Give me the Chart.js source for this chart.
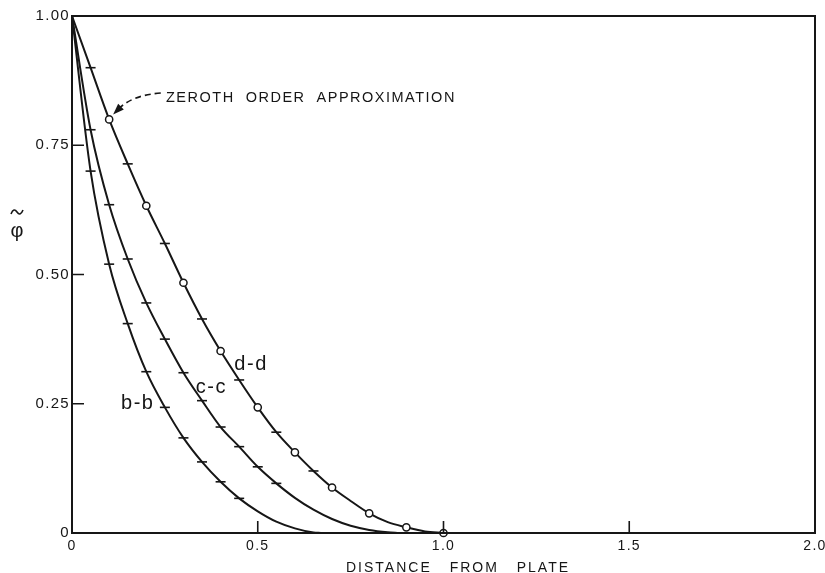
<!DOCTYPE html>
<html>
<head>
<meta charset="utf-8">
<script src="https://cdn.jsdelivr.net/npm/chart.js@4/dist/chart.umd.min.js"></script>
<style>
  html, body { margin: 0; padding: 0; background: #fff; }
  #wrap { width: 825px; height: 573px; }
</style>
</head>
<body>
<div id="wrap"><canvas id="c" width="825" height="573"></canvas></div>
<script>
// Axis ticks
const xTicks = [0, 0.5, 1.0, 1.5, 2.0];
const xTickLabels = ['0', '0.5', '1.0', '1.5', '2.0'];
const yTicks = [0, 0.25, 0.5, 0.75, 1.0];
const yTickLabels = ['0', '0.25', '0.50', '0.75', '1.00'];

// Curve b-b  (marker: 't' = cross stroke, 'o' = open circle, '' = none)
const bbX = [0, 0.05, 0.10, 0.15, 0.20, 0.25, 0.30, 0.35, 0.40, 0.45, 0.50, 0.55, 0.60, 0.65, 0.67];
const bbY = [1.0, 0.70, 0.52, 0.405, 0.312, 0.243, 0.184, 0.1375, 0.099, 0.067, 0.042, 0.022, 0.009, 0.001, 0];
const bbMark = ['', 't', 't', 't', 't', 't', 't', 't', 't', 't', '', '', '', '', ''];

// Curve c-c
const ccX = [0, 0.05, 0.10, 0.15, 0.20, 0.25, 0.30, 0.35, 0.40, 0.45, 0.50, 0.55, 0.60, 0.65, 0.70, 0.75, 0.80, 0.85, 0.88];
const ccY = [1.0, 0.78, 0.635, 0.53, 0.445, 0.375, 0.31, 0.256, 0.205, 0.167, 0.128, 0.096, 0.068, 0.045, 0.027, 0.014, 0.006, 0.0015, 0];
const ccMark = ['', 't', 't', 't', 't', 't', 't', 't', 't', 't', 't', 't', '', '', '', '', '', '', ''];

// Curve d-d (zeroth order approximation)
const ddX = [0, 0.05, 0.10, 0.15, 0.20, 0.25, 0.30, 0.35, 0.40, 0.45, 0.50, 0.55, 0.60, 0.65, 0.70, 0.75, 0.80, 0.85, 0.90, 0.95, 1.0];
const ddY = [1.0, 0.90, 0.80, 0.714, 0.633, 0.56, 0.484, 0.414, 0.352, 0.296, 0.243, 0.195, 0.156, 0.12, 0.088, 0.062, 0.038, 0.021, 0.011, 0.003, 0];
const ddMark = ['', 't', 'o', 't', 'o', 't', 'o', 't', 'o', 't', 'o', 't', 'o', 't', 'o', '', 'o', '', 'o', '', 'o'];

const INK = '#161616';
const FONT = '"Liberation Sans", Arial, sans-serif';

function curve(xs, ys, marks) {
  return {
    data: xs.map((x, i) => ({ x: x, y: ys[i] })),
    borderColor: INK,
    borderWidth: 2,
    cubicInterpolationMode: 'monotone',
    fill: false,
    clip: false,
    pointStyle: ctx => marks[ctx.dataIndex] === 'o' ? 'circle' : 'line',
    pointRadius: ctx => marks[ctx.dataIndex] === 'o' ? 3.6 : (marks[ctx.dataIndex] === 't' ? 5 : 0),
    pointBackgroundColor: '#ffffff',
    pointBorderColor: INK,
    pointBorderWidth: ctx => marks[ctx.dataIndex] === 'o' ? 1.5 : 1.6,
    pointHoverRadius: 0
  };
}

// Frame, inward tick marks, axis titles and text annotations
const decor = {
  id: 'decor',
  beforeDraw(chart) {
    chart.ctx.letterSpacing = '1.3px';
  },
  afterDatasetsDraw(chart) {
    const ctx = chart.ctx;
    const xs = chart.scales.x, ys = chart.scales.y;
    const { left, right, top, bottom } = chart.chartArea;
    ctx.save();
    ctx.strokeStyle = INK;
    ctx.lineWidth = 2;
    ctx.strokeRect(left, top, right - left, bottom - top);
    ctx.lineWidth = 1.6;
    ctx.beginPath();
    xTicks.slice(1, -1).forEach(v => {
      const px = xs.getPixelForValue(v);
      ctx.moveTo(px, bottom); ctx.lineTo(px, bottom - 12);
    });
    yTicks.slice(1, -1).forEach(v => {
      const py = ys.getPixelForValue(v);
      ctx.moveTo(left, py); ctx.lineTo(left + 12, py);
    });
    ctx.stroke();

    ctx.fillStyle = INK;

    // x axis title
    ctx.font = '14px ' + FONT;
    ctx.letterSpacing = '2px';
    ctx.wordSpacing = '12px';
    ctx.textAlign = 'left';
    ctx.textBaseline = 'alphabetic';
    ctx.fillText('DISTANCE FROM PLATE', 346, 572);
    ctx.wordSpacing = '0px';

    // y axis title: phi with a tilde above
    ctx.letterSpacing = '0px';
    ctx.textAlign = 'center';
    ctx.textBaseline = 'middle';
    ctx.font = '20px ' + FONT;
    ctx.fillText('φ', 17, 231);
    ctx.lineWidth = 1.6;
    ctx.beginPath();
    ctx.moveTo(11, 214);
    ctx.bezierCurveTo(13, 209, 15, 209, 17, 212);
    ctx.bezierCurveTo(19, 215, 21, 215, 23, 210);
    ctx.stroke();

    // curve labels
    ctx.letterSpacing = '1.5px';
    ctx.font = '20px ' + FONT;
    ctx.textAlign = 'center';
    ctx.textBaseline = 'alphabetic';
    const lab = (t, vx, vy) => ctx.fillText(t, xs.getPixelForValue(vx), ys.getPixelForValue(vy));
    lab('d-d', 0.482, 0.315);
    lab('c-c', 0.375, 0.271);
    lab('b-b', 0.177, 0.239);

    // note with dashed arrow
    ctx.font = '14.5px ' + FONT;
    ctx.letterSpacing = '1.5px';
    ctx.textAlign = 'left';
    ctx.fillText('ZEROTH  ORDER  APPROXIMATION', xs.getPixelForValue(0.253), ys.getPixelForValue(0.833));

    const sx = xs.getPixelForValue(0.239), sy = ys.getPixelForValue(0.851);
    const px = xs.getPixelForValue(ddX[2]), py = ys.getPixelForValue(ddY[2]);
    const tx = px + 4, ty = py - 5;
    const cx = sx - 28, cy = sy + 2;
    ctx.setLineDash([6, 4]);
    ctx.lineWidth = 1.6;
    ctx.beginPath();
    ctx.moveTo(sx, sy);
    ctx.quadraticCurveTo(cx, cy, tx + 6, ty - 6);
    ctx.stroke();
    ctx.setLineDash([]);
    const ang = Math.atan2(ty - cy, tx - cx);
    const L = 11, W = 4;
    ctx.beginPath();
    ctx.moveTo(tx, ty);
    ctx.lineTo(tx - L * Math.cos(ang) + W * Math.sin(ang), ty - L * Math.sin(ang) - W * Math.cos(ang));
    ctx.lineTo(tx - L * Math.cos(ang) - W * Math.sin(ang), ty - L * Math.sin(ang) + W * Math.cos(ang));
    ctx.closePath();
    ctx.fill();
    ctx.restore();
  }
};

new Chart(document.getElementById('c'), {
  type: 'line',
  data: {
    datasets: [curve(bbX, bbY, bbMark), curve(ccX, ccY, ccMark), curve(ddX, ddY, ddMark)]
  },
  options: {
    responsive: false,
    animation: false,
    events: [],
    layout: { padding: { top: 16, right: 10, left: 0, bottom: 0 } },
    plugins: { legend: { display: false }, tooltip: { enabled: false } },
    scales: {
      x: {
        type: 'linear',
        min: 0, max: 2,
        grid: { display: false, drawTicks: false },
        border: { display: false },
        afterBuildTicks: s => { s.ticks = xTicks.map(v => ({ value: v })); },
        afterFit: s => { s.height = 40; s.paddingLeft = 0; s.paddingRight = 0; },
        ticks: {
          color: INK,
          padding: 5,
          maxRotation: 0,
          font: { family: FONT, size: 14 },
          callback: (v) => xTickLabels[xTicks.indexOf(v)]
        }
      },
      y: {
        type: 'linear',
        min: 0, max: 1,
        grid: { display: false, drawTicks: false },
        border: { display: false },
        afterBuildTicks: s => { s.ticks = yTicks.map(v => ({ value: v })); },
        afterFit: s => { s.width = 72; s.paddingTop = 0; s.paddingBottom = 0; },
        ticks: {
          color: INK,
          padding: 2,
          font: { family: FONT, size: 15 },
          callback: (v) => yTickLabels[yTicks.indexOf(v)]
        }
      }
    }
  },
  plugins: [decor]
});
</script>
</body>
</html>
